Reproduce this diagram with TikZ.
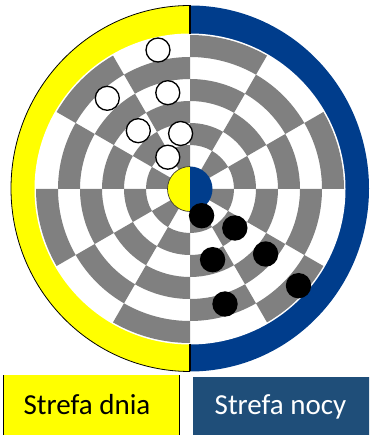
\documentclass[tikz,border=0pt]{standalone}
\usepackage{fontspec}
\setmainfont{Carlito}
\definecolor{dayyellow}{RGB}{255,255,0}
\definecolor{nightblue}{RGB}{0,61,140}
\definecolor{boxblue}{RGB}{31,78,121}
\definecolor{boardgray}{RGB}{128,128,128}
\begin{document}
\begin{tikzpicture}[x=0.75pt,y=0.75pt,
  whitepiece/.style={fill=white,draw=black,line width=1pt},
  blackpiece/.style={fill=black,draw=black,line width=0.5pt},
  boxlabel/.style={anchor=base,font=\fontsize{21.75}{26}\selectfont}]
\useasboundingbox (0,0) rectangle (369,435);
\clip (0,0) rectangle (369,435);
% outer ring halves
\fill[dayyellow] (190,63.5) arc[start angle=270, end angle=90, x radius=179, y radius=183] -- cycle;
\fill[nightblue] (190,429.5) arc[start angle=90, end angle=-90, x radius=179, y radius=183] -- cycle;
\draw[black, line width=0.6pt] (190,63.5) arc[start angle=270, end angle=90, x radius=179, y radius=183];
% board
\begin{scope}[shift={(190,246)}]
  \fill[white] (0,0) circle[radius=155.5];
  \foreach \k in {1,...,6}{
    \foreach \s in {0,...,11}{
      \pgfmathtruncatemacro{\parity}{mod(\s+\k,2)}
      \ifnum\parity=0
        \pgfmathsetmacro{\a}{\s*30}
        \pgfmathsetmacro{\b}{\s*30+30}
        \pgfmathsetmacro{\ri}{22*\k}
        \pgfmathsetmacro{\ro}{22*\k+22}
        \fill[boardgray] (\a:\ri) -- (\a:\ro) arc[start angle=\a, end angle=\b, radius=\ro] -- (\b:\ri) arc[start angle=\b, end angle=\a, radius=\ri] -- cycle;
      \fi
    }
  }
  % center
  \fill[dayyellow] (0,-22.5) arc[start angle=270, end angle=90, radius=22.5] -- cycle;
  \fill[nightblue] (0,22.5) arc[start angle=90, end angle=-90, radius=22.5] -- cycle;
  \draw[black!80!olive, line width=0.5pt] (0,-22.5) arc[start angle=270, end angle=90, radius=22.5];
\end{scope}
% divider
\draw[black, line width=0.8pt] (190,429.5) -- (190,401);
\draw[black, line width=0.8pt] (190,91) -- (190,63.5);
% white pieces
\foreach \p in {(158,385),(107.3,336.7),(167.8,342.3),(138.3,304.3),(180.6,301.5),(167.8,277.8)}
  \draw[whitepiece] \p circle[radius=12];
% black pieces
\foreach \p in {(201.6,219.3),(234.8,207),(212.6,175.3),(265.6,181),(298.5,149.3),(225,131)}
  \fill[black] \p circle[radius=12.7];
% legend boxes
\fill[dayyellow] (3,-2) rectangle (180,60);
\draw[black, line width=1pt] (3.5,-2) -- (3.5,60);
\draw[black, line width=1pt] (179.5,-2) -- (179.5,60);
\fill[boxblue] (192.8,-2) rectangle (371,58.3);
\node[boxlabel] (day) at (87,21) {Strefa dnia};
\node[boxlabel, text=white] (night) at (280.5,21) {Strefa nocy};
\end{tikzpicture}
\end{document}
